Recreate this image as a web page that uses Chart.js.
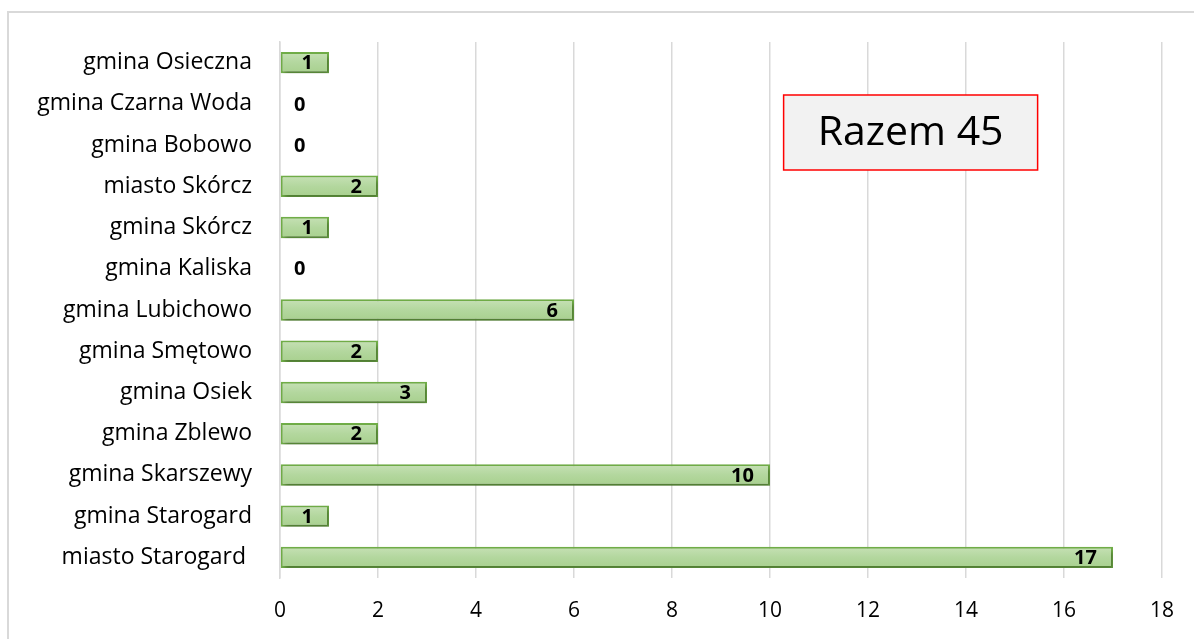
<!DOCTYPE html>
<html>
<head>
<meta charset="utf-8">
<script src="https://cdn.jsdelivr.net/npm/chart.js@4/dist/chart.umd.min.js"></script>
<style>
  html, body { margin: 0; padding: 0; background: #fff; }
  #wrap { width: 1194px; height: 639px; position: relative; }
</style>
</head>
<body>
<div id="wrap"><canvas id="chart" width="1194" height="639"></canvas></div>
<script>
const gminy = [
  "gmina Osieczna", "gmina Czarna Woda", "gmina Bobowo", "miasto Skórcz",
  "gmina Skórcz", "gmina Kaliska", "gmina Lubichowo", "gmina Smętowo",
  "gmina Osiek", "gmina Zblewo", "gmina Skarszewy", "gmina Starogard",
  "miasto Starogard "
];
const liczby = [1, 0, 0, 2, 1, 0, 6, 2, 3, 2, 10, 1, 17];
const xTicks = [0, 2, 4, 6, 8, 10, 12, 14, 16, 18];

const FONT = "'Open Sans', 'Noto Sans', sans-serif";
const razem = liczby.reduce((a, b) => a + b, 0);

// gradient for each bar, computed from the category scale
function barFill(ctx) {
  const chart = ctx.chart;
  const y = chart.scales && chart.scales.y;
  if (!y || !chart.chartArea) return "#b4d7a0";
  const c = y.getPixelForValue(ctx.dataIndex);
  const h = (y.height / gminy.length) * 0.52 / 2;
  const g = chart.ctx.createLinearGradient(0, c - h, 0, c + h);
  g.addColorStop(0, "#c6e1b5");
  g.addColorStop(0.5, "#b3d79e");
  g.addColorStop(1, "#a8d08e");
  return g;
}

const ramka = {
  id: "ramka",
  beforeDraw(chart) {
    const c = chart.ctx;
    c.save();
    c.strokeStyle = "#d9d9d9";
    c.lineWidth = 2;
    c.strokeRect(8, 12, chart.width + 20, chart.height + 20);
    c.restore();
  }
};

const cien = {
  id: "cien",
  beforeDatasetDraw(chart) {
    const c = chart.ctx;
    c.save();
    c.shadowColor = "rgba(0,0,0,0.3)";
    c.shadowOffsetX = 2;
    c.shadowOffsetY = 3;
    c.shadowBlur = 4;
  },
  afterDatasetDraw(chart) {
    chart.ctx.restore();
  }
};

const etykiety = {
  id: "etykiety",
  afterDatasetsDraw(chart) {
    const c = chart.ctx;
    const meta = chart.getDatasetMeta(0);
    const x0 = chart.scales.x.getPixelForValue(0);
    c.save();
    c.font = "bold 20px " + FONT;
    c.fillStyle = "#000";
    c.textBaseline = "middle";
    meta.data.forEach((bar, i) => {
      const v = liczby[i];
      if (v > 0) {
        c.textAlign = "right";
        c.fillText(String(v), bar.x - 16, bar.y + 1);
      } else {
        c.textAlign = "left";
        c.fillText(String(v), x0 + 14, bar.y + 1);
      }
    });
    c.restore();
  }
};

const suma = {
  id: "suma",
  afterDraw(chart) {
    const c = chart.ctx;
    const a = chart.chartArea;
    const x = a.left + (a.right - a.left) * 0.571;
    const y = 95, w = 254, h = 75;
    c.save();
    c.fillStyle = "#f2f2f2";
    c.fillRect(x, y, w, h);
    c.strokeStyle = "#ff0000";
    c.lineWidth = 1.5;
    c.strokeRect(x, y, w, h);
    c.fillStyle = "#000";
    c.font = "41px " + FONT;
    c.textAlign = "center";
    c.textBaseline = "middle";
    c.fillText("Razem " + razem, x + w / 2, y + h / 2 + 1);
    c.restore();
  }
};

new Chart(document.getElementById("chart").getContext("2d"), {
  type: "bar",
  data: {
    labels: gminy,
    datasets: [{
      data: liczby,
      backgroundColor: barFill,
      borderColor: "#70ad47",
      borderWidth: 2,
      borderSkipped: false,
      barPercentage: 0.52,
      categoryPercentage: 1
    }]
  },
  options: {
    indexAxis: "y",
    responsive: false,
    animation: false,
    devicePixelRatio: 1,
    layout: { padding: { top: 42, right: 32, bottom: 16, left: 0 } },
    plugins: {
      legend: { display: false },
      tooltip: { enabled: false }
    },
    scales: {
      x: {
        min: 0,
        max: 18,
        afterBuildTicks(scale) { scale.ticks = xTicks.map(v => ({ value: v })); },
        afterFit(scale) { scale.height = 45; },
        grid: { color: "#d9d9d9", lineWidth: 1.5, drawTicks: false },
        border: { display: false },
        ticks: { color: "#000", font: { family: FONT, size: 21 }, padding: 20 }
      },
      y: {
        afterFit(scale) { scale.width = 280; },
        grid: { display: false, drawTicks: false },
        border: { display: true, color: "#d9d9d9", width: 1.5 },
        ticks: { color: "#000", font: { family: FONT, size: 23 }, padding: 28 }
      }
    }
  },
  plugins: [ramka, cien, etykiety, suma]
});
</script>
</body>
</html>
